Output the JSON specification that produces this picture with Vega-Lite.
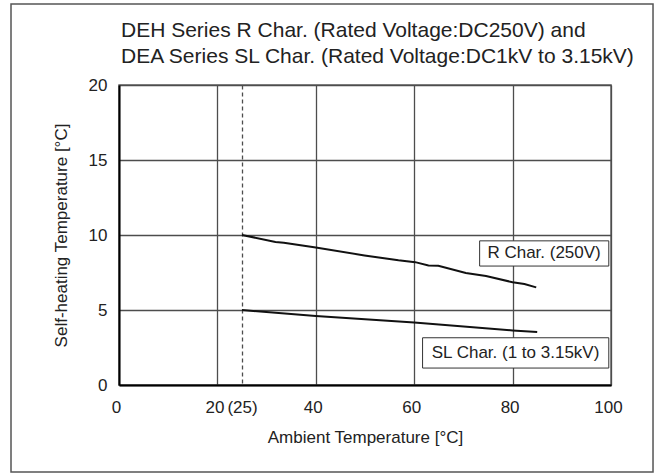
{
  "$schema": "https://vega.github.io/schema/vega-lite/v6.json",
  "width": 492,
  "height": 300,
  "autosize": {"type": "none"},
  "padding": {"left": 119, "top": 85, "right": 49, "bottom": 88},
  "background": "white",
  "title": {
    "text": ["DEH Series R Char. (Rated Voltage:DC250V) and", "DEA Series SL Char. (Rated Voltage:DC1kV to 3.15kV)"],
    "anchor": "start",
    "frame": "group",
    "orient": "top",
    "baseline": "bottom",
    "offset": -85,
    "dx": 2,
    "font": "Liberation Sans",
    "fontSize": 21,
    "fontWeight": "normal",
    "color": "#222",
    "lineHeight": 26.5
  },
  "config": {
    "view": {"stroke": "#666", "strokeWidth": 1.5},
    "font": "Liberation Sans",
    "axis": {
      "labelFont": "Liberation Sans",
      "labelFontSize": 17,
      "labelColor": "#222",
      "titleFont": "Liberation Sans",
      "titleFontSize": 17,
      "titleFontWeight": "normal",
      "titleColor": "#222",
      "ticks": false,
      "grid": true,
      "domainColor": "#000",
      "domainWidth": 2,
      "gridColor": "#4d4d4d",
      "gridWidth": 1.3,
      "gridOpacity": 1,
      "labelOverlap": false,
      "labelFlush": false
    }
  },
  "data": {
    "values": [
      {"T": 25, "S": 10, "series": "R"},
      {"T": 31.8, "S": 9.54, "series": "R"},
      {"T": 33.5, "S": 9.49, "series": "R"},
      {"T": 40, "S": 9.16, "series": "R"},
      {"T": 49.9, "S": 8.64, "series": "R"},
      {"T": 56.8, "S": 8.31, "series": "R"},
      {"T": 60.2, "S": 8.19, "series": "R"},
      {"T": 62.9, "S": 7.97, "series": "R"},
      {"T": 64.9, "S": 7.95, "series": "R"},
      {"T": 70.5, "S": 7.47, "series": "R"},
      {"T": 74.6, "S": 7.27, "series": "R"},
      {"T": 80, "S": 6.85, "series": "R"},
      {"T": 82.4, "S": 6.73, "series": "R"},
      {"T": 84.8, "S": 6.51, "series": "R"},
      {"T": 25, "S": 5, "series": "SL"},
      {"T": 40, "S": 4.6, "series": "SL"},
      {"T": 60, "S": 4.17, "series": "SL"},
      {"T": 80, "S": 3.64, "series": "SL"},
      {"T": 85, "S": 3.53, "series": "SL"}
    ]
  },
  "layer": [
    {
      "mark": {"type": "line", "color": "#111", "strokeWidth": 2},
      "encoding": {
        "x": {
          "field": "T",
          "type": "quantitative",
          "scale": {"domain": [0, 100], "nice": false},
          "axis": {
            "values": [0, 20, 25, 40, 60, 80, 100],
            "labelExpr": "datum.value == 25 ? '(25)' : datum.label",
            "labelPadding": 14,
            "labelOffset": {"condition": {"test": "datum.value == 25", "value": 0}, "value": -3},
            "gridDash": {"condition": {"test": "datum.value == 25", "value": [4, 3]}, "value": [1, 0]},
            "title": "Ambient Temperature [°C]",
            "titlePadding": 14
          }
        },
        "y": {
          "field": "S",
          "type": "quantitative",
          "scale": {"domain": [0, 20], "nice": false},
          "axis": {
            "values": [0, 5, 10, 15, 20],
            "labelPadding": 12,
            "title": "Self-heating Temperature [°C]",
            "titlePadding": 18
          }
        },
        "detail": {"field": "series"}
      }
    },
    {
      "data": {"values": [{}]},
      "mark": {"type": "rect", "fill": null, "stroke": "#555", "strokeWidth": 1.5, "clip": false},
      "encoding": {
        "x": {"datum": -21.95, "type": "quantitative"},
        "x2": {"datum": 108.54},
        "y": {"datum": -5.8, "type": "quantitative"},
        "y2": {"datum": 25.4}
      }
    },
    {
      "data": {"values": [{"label": "R Char. (250V)"}]},
      "layer": [
        {
          "mark": {"type": "rect", "fill": "white", "stroke": "#333", "strokeWidth": 1},
          "encoding": {
            "x": {"datum": 73.3, "type": "quantitative"},
            "x2": {"datum": 99.55},
            "y": {"datum": 7.93, "type": "quantitative"},
            "y2": {"datum": 9.61}
          }
        },
        {
          "mark": {"type": "text", "fontSize": 17, "color": "#222", "align": "center", "baseline": "middle", "font": "Liberation Sans"},
          "encoding": {
            "x": {"datum": 86.4, "type": "quantitative"},
            "y": {"datum": 8.77, "type": "quantitative"},
            "text": {"field": "label"}
          }
        }
      ]
    },
    {
      "data": {"values": [{"label": "SL Char. (1 to 3.15kV)"}]},
      "layer": [
        {
          "mark": {"type": "rect", "fill": "white", "stroke": "#333", "strokeWidth": 1},
          "encoding": {
            "x": {"datum": 61.7, "type": "quantitative"},
            "x2": {"datum": 99.55},
            "y": {"datum": 1.13, "type": "quantitative"},
            "y2": {"datum": 3.15}
          }
        },
        {
          "mark": {"type": "text", "fontSize": 17, "color": "#222", "align": "center", "baseline": "middle", "font": "Liberation Sans"},
          "encoding": {
            "x": {"datum": 80.6, "type": "quantitative"},
            "y": {"datum": 2.13, "type": "quantitative"},
            "text": {"field": "label"}
          }
        }
      ]
    }
  ]
}
